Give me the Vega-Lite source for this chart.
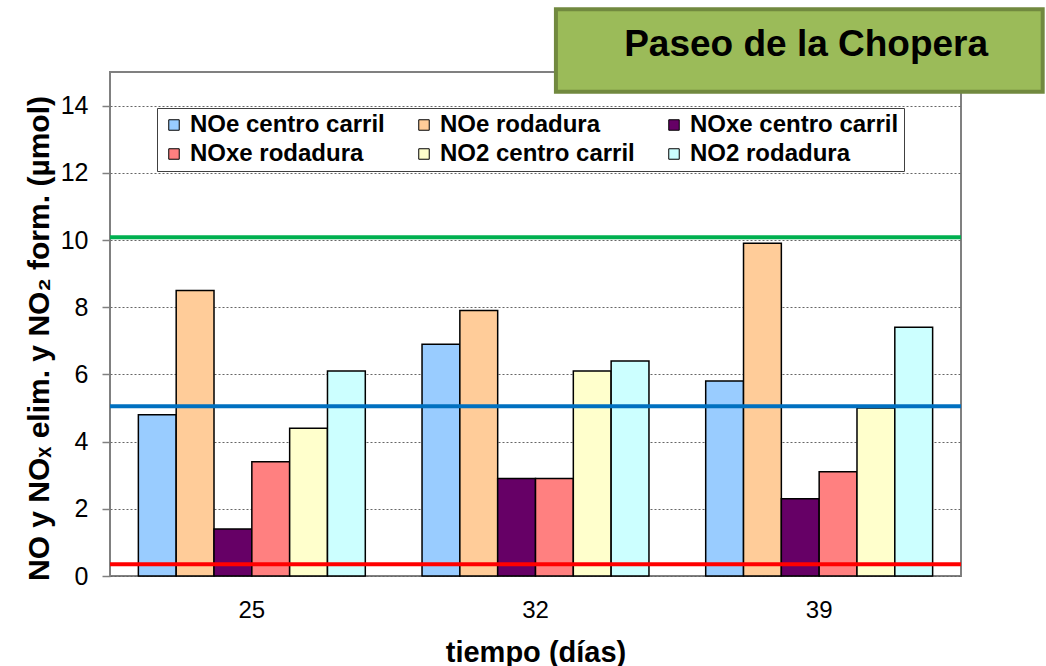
{
  "$schema": "https://vega.github.io/schema/vega-lite/v6.json",
  "width": 851,
  "height": 504,
  "autosize": {"type": "none"},
  "padding": {"left": 110, "top": 72, "right": 85, "bottom": 90},
  "background": "white",
  "config": {
    "font": "Liberation Sans",
    "view": {"stroke": "#808080", "strokeWidth": 2},
    "axis": {"labelFont": "Liberation Sans", "titleFont": "Liberation Sans", "labelColor": "#000", "titleColor": "#000"}
  },
  "datasets": {
    "medidas": [
      {"dias": "25", "serie": "NOe centro carril", "umol": 4.8},
      {"dias": "25", "serie": "NOe rodadura", "umol": 8.5},
      {"dias": "25", "serie": "NOxe centro carril", "umol": 1.4},
      {"dias": "25", "serie": "NOxe rodadura", "umol": 3.4},
      {"dias": "25", "serie": "NO2 centro carril", "umol": 4.4},
      {"dias": "25", "serie": "NO2 rodadura", "umol": 6.1},
      {"dias": "32", "serie": "NOe centro carril", "umol": 6.9},
      {"dias": "32", "serie": "NOe rodadura", "umol": 7.9},
      {"dias": "32", "serie": "NOxe centro carril", "umol": 2.9},
      {"dias": "32", "serie": "NOxe rodadura", "umol": 2.9},
      {"dias": "32", "serie": "NO2 centro carril", "umol": 6.1},
      {"dias": "32", "serie": "NO2 rodadura", "umol": 6.4},
      {"dias": "39", "serie": "NOe centro carril", "umol": 5.8},
      {"dias": "39", "serie": "NOe rodadura", "umol": 9.9},
      {"dias": "39", "serie": "NOxe centro carril", "umol": 2.3},
      {"dias": "39", "serie": "NOxe rodadura", "umol": 3.1},
      {"dias": "39", "serie": "NO2 centro carril", "umol": 5.0},
      {"dias": "39", "serie": "NO2 rodadura", "umol": 7.4}
    ],
    "referencias": [
      {"nivel": "superior", "umol": 10.08},
      {"nivel": "medio", "umol": 5.05},
      {"nivel": "inferior", "umol": 0.35}
    ],
    "emplazamiento": [
      {"sitio": "Paseo de la Chopera"}
    ]
  },
  "resolve": {"scale": {"x": "independent", "y": "independent"}},
  "layer": [
    {
      "layer": [
        {
          "data": {"name": "medidas"},
          "mark": {"type": "bar", "stroke": "#000", "strokeWidth": 1.5},
          "encoding": {
            "x": {
              "field": "dias", "type": "nominal",
              "scale": {"paddingInner": 0, "paddingOuter": 0},
              "axis": {
                "title": "tiempo (días)", "labelAngle": 0, "labelFontSize": 24,
                "labelPadding": 22, "ticks": false, "domain": false,
                "titleFontSize": 29, "titleFontWeight": "bold", "titlePadding": 16
              }
            },
            "xOffset": {
              "field": "serie", "type": "nominal",
              "sort": ["NOe centro carril", "NOe rodadura", "NOxe centro carril", "NOxe rodadura", "NO2 centro carril", "NO2 rodadura"],
              "scale": {"paddingInner": 0, "paddingOuter": 0.75}
            },
            "y": {
              "field": "umol", "type": "quantitative",
              "scale": {"domain": [0, 15], "nice": false},
              "axis": {
                "title": "NO y NOₓ elim. y NO₂ form. (µmol)",
                "values": [0, 2, 4, 6, 8, 10, 12, 14],
                "labelFontSize": 25, "labelPadding": 14,
                "tickSize": 8, "tickColor": "#808080", "tickWidth": 1.5,
                "domain": false,
                "grid": true, "gridColor": "#666", "gridDash": [2, 2], "gridWidth": 1,
                "titleFontSize": 30, "titleFontWeight": "bold", "titlePadding": 6, "titleY": 266
              }
            },
            "fill": {
              "field": "serie", "type": "nominal",
              "scale": {
                "domain": ["NOe centro carril", "NOe rodadura", "NOxe centro carril", "NOxe rodadura", "NO2 centro carril", "NO2 rodadura"],
                "range": ["#99CCFF", "#FFCC99", "#660066", "#FF8080", "#FFFFCC", "#CCFFFF"]
              },
              "legend": {
                "title": null, "orient": "none", "legendX": 47, "legendY": 36,
                "direction": "horizontal", "columns": 3, "gridAlign": "all",
                "columnPadding": 13, "rowPadding": 5, "padding": 5,
                "symbolType": "square", "symbolSize": 110,
                "symbolStrokeColor": "#000", "symbolStrokeWidth": 1,
                "labelFont": "Liberation Sans", "labelFontSize": 24, "labelFontWeight": "bold",
                "labelColor": "#000", "labelLimit": 400, "labelOffset": 4,
                "strokeColor": "#404040", "fillColor": "white"
              }
            }
          }
        },
        {
          "data": {"name": "referencias"},
          "mark": {"type": "rule", "strokeWidth": 4},
          "encoding": {
            "y": {"field": "umol", "type": "quantitative"},
            "stroke": {
              "field": "nivel", "type": "nominal",
              "scale": {"domain": ["superior", "medio", "inferior"], "range": ["#00B050", "#0070C0", "#FF0000"]},
              "legend": null
            }
          }
        }
      ]
    },
    {
      "data": {"name": "emplazamiento"},
      "layer": [
        {
          "mark": {"type": "rect", "fill": "#9BBB59", "stroke": "#71893F", "strokeWidth": 4, "clip": false},
          "encoding": {
            "x": {"datum": 0.524, "type": "quantitative", "scale": {"domain": [0, 1], "nice": false}, "axis": null},
            "x2": {"datum": 1.096},
            "y": {"datum": 16.87, "type": "quantitative", "scale": {"domain": [0, 15], "nice": false}, "axis": null},
            "y2": {"datum": 14.41}
          }
        },
        {
          "mark": {"type": "text", "font": "Liberation Sans", "fontSize": 37, "fontWeight": "bold", "color": "#000", "align": "center", "baseline": "middle", "clip": false},
          "encoding": {
            "x": {"datum": 0.818, "type": "quantitative"},
            "y": {"datum": 15.8, "type": "quantitative"},
            "text": {"field": "sitio"}
          }
        }
      ]
    }
  ]
}
